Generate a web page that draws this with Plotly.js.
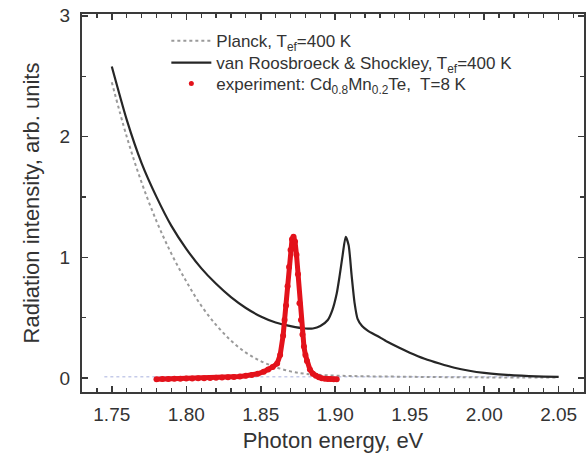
<!DOCTYPE html>
<html>
<head>
<meta charset="utf-8">
<script src="https://cdn.plot.ly/plotly-3.0.1.min.js"></script>
<style>html,body{margin:0;padding:0;background:#fff;}#chart{width:586px;height:460px;}</style>
</head>
<body>
<div id="chart"></div>
<script>
// Planck curve, T_ef = 400 K
const planckX = [1.75, 1.76, 1.77, 1.78, 1.79, 1.80, 1.81, 1.82, 1.83, 1.84, 1.85, 1.86, 1.87, 1.88, 1.90, 1.95, 2.00, 2.05];
const planckY = [2.45, 2.00, 1.62, 1.30, 1.03, 0.80, 0.60, 0.44, 0.31, 0.21, 0.14, 0.09, 0.055, 0.035, 0.02, 0.01, 0.005, 0.003];

// van Roosbroeck & Shockley, T_ef = 400 K
const vrsX = [1.75, 1.76, 1.77, 1.78, 1.79, 1.80, 1.81, 1.82, 1.83, 1.84, 1.85, 1.86, 1.87, 1.88, 1.885, 1.89, 1.895, 1.898, 1.901, 1.903, 1.905, 1.907, 1.909, 1.911, 1.913, 1.915, 1.918, 1.922, 1.928, 1.935, 1.943, 1.95, 1.96, 1.97, 1.98, 1.99, 2.00, 2.01, 2.02, 2.03, 2.04, 2.05];
const vrsY = [2.58, 2.14, 1.78, 1.50, 1.26, 1.07, 0.91, 0.78, 0.67, 0.58, 0.51, 0.46, 0.43, 0.41, 0.41, 0.43, 0.48, 0.56, 0.70, 0.85, 1.02, 1.17, 1.10, 0.85, 0.62, 0.49, 0.43, 0.39, 0.35, 0.30, 0.25, 0.21, 0.16, 0.12, 0.085, 0.06, 0.042, 0.03, 0.022, 0.016, 0.012, 0.009];

// experiment: Cd0.8Mn0.2Te, T = 8 K
const expX = [1.780, 1.784, 1.788, 1.792, 1.796, 1.800, 1.804, 1.808, 1.812, 1.816, 1.820, 1.824, 1.828, 1.832, 1.836, 1.840, 1.844, 1.848, 1.852, 1.855, 1.858, 1.861, 1.863, 1.865, 1.866, 1.867, 1.868, 1.869, 1.870, 1.871, 1.872, 1.873, 1.874, 1.875, 1.876, 1.877, 1.878, 1.879, 1.880, 1.881, 1.883, 1.885, 1.887, 1.889, 1.891, 1.893, 1.895, 1.897, 1.899, 1.901];
const expY = [-0.010, -0.009, -0.008, -0.007, -0.006, -0.005, -0.004, -0.003, -0.002, 0.000, 0.002, 0.004, 0.006, 0.009, 0.013, 0.018, 0.025, 0.035, 0.052, 0.070, 0.092, 0.12, 0.19, 0.35, 0.48, 0.60, 0.76, 0.92, 1.06, 1.15, 1.17, 1.13, 1.02, 0.86, 0.62, 0.48, 0.36, 0.26, 0.19, 0.14, 0.07, 0.035, 0.018, 0.006, -0.002, -0.006, -0.008, -0.009, -0.01, -0.01];

// faint dotted baseline near zero
const baseX = [1.745, 2.05];
const baseY = [0.01, 0.01];

const legendNames = [
  'Planck, T<sub>ef</sub>=400 K',
  'van Roosbroeck &amp; Shockley, T<sub>ef</sub>=400 K',
  'experiment: Cd<sub>0.8</sub>Mn<sub>0.2</sub>Te,  T=8 K'
];

const red = '#e3121b';
const FONT = 'Liberation Sans, Arial, sans-serif';

const traces = [
  {x: baseX, y: baseY, mode: 'lines', line: {color: 'rgba(150,160,215,0.55)', width: 1.5, dash: 'dot'}, showlegend: false, hoverinfo: 'skip'},
  {x: planckX, y: planckY, mode: 'lines', name: legendNames[0], legend: 'legend', line: {color: '#9a9a9a', width: 2, dash: '3px,3px', shape: 'spline'}},
  {x: vrsX, y: vrsY, mode: 'lines', name: legendNames[1], legend: 'legend2', line: {color: '#262626', width: 2.2, shape: 'spline', smoothing: 0.6}},
  {x: expX, y: expY, mode: 'lines+markers', name: legendNames[2], showlegend: false, line: {color: red, width: 5}, marker: {color: red, size: 6}},
  {x: [null], y: [null], mode: 'markers', name: legendNames[2], legend: 'legend3', marker: {color: red, size: 5}}
];

const axisCommon = {
  showgrid: false, zeroline: false, showline: true, linecolor: '#3a3a3a', linewidth: 2,
  mirror: 'ticks', ticks: 'inside', tickcolor: '#3a3a3a', tickwidth: 1.5, ticklen: 6,
  tickfont: {family: FONT, size: 19, color: '#333'}
};

function mkLegend(yc) {
  return {x: 0.168, y: yc, xanchor: 'left', yanchor: 'middle', bgcolor: 'rgba(0,0,0,0)',
          font: {family: FONT, size: 17, color: '#333'}, itemwidth: 40};
}

const layout = {
  width: 586, height: 460,
  margin: {l: 82, r: 2, t: 14, b: 68},
  paper_bgcolor: '#fff', plot_bgcolor: '#fff',
  showlegend: true,
  legend: mkLegend(0.928),
  legend2: mkLegend(0.870),
  legend3: mkLegend(0.815),
  xaxis: Object.assign({}, axisCommon, {
    range: [1.73, 2.067], tickvals: [1.75, 1.80, 1.85, 1.90, 1.95, 2.00, 2.05],
    ticktext: ['1.75', '1.80', '1.85', '1.90', '1.95', '2.00', '2.05'],
    minor: {dtick: 0.01, tick0: 1.75, ticks: 'inside', ticklen: 4, tickcolor: '#3a3a3a', tickwidth: 1.2},
    ticklabelstandoff: 4,
    title: {text: 'Photon energy, eV', font: {family: FONT, size: 22, color: '#333'}, standoff: 9}
  }),
  yaxis: Object.assign({}, axisCommon, {
    range: [-0.116, 3.015], tickvals: [0, 1, 2, 3], ticktext: ['0', '1', '2', '3'],
    minor: {dtick: 0.5, tick0: 0, ticks: 'inside', ticklen: 4, tickcolor: '#3a3a3a', tickwidth: 1.2},
    ticklabelstandoff: 6,
    title: {text: 'Radiation intensity, arb. units', font: {family: FONT, size: 22, color: '#333'}, standoff: 14}
  })
};

Plotly.newPlot('chart', traces, layout, {displayModeBar: false, staticPlot: true});
</script>
</body>
</html>
